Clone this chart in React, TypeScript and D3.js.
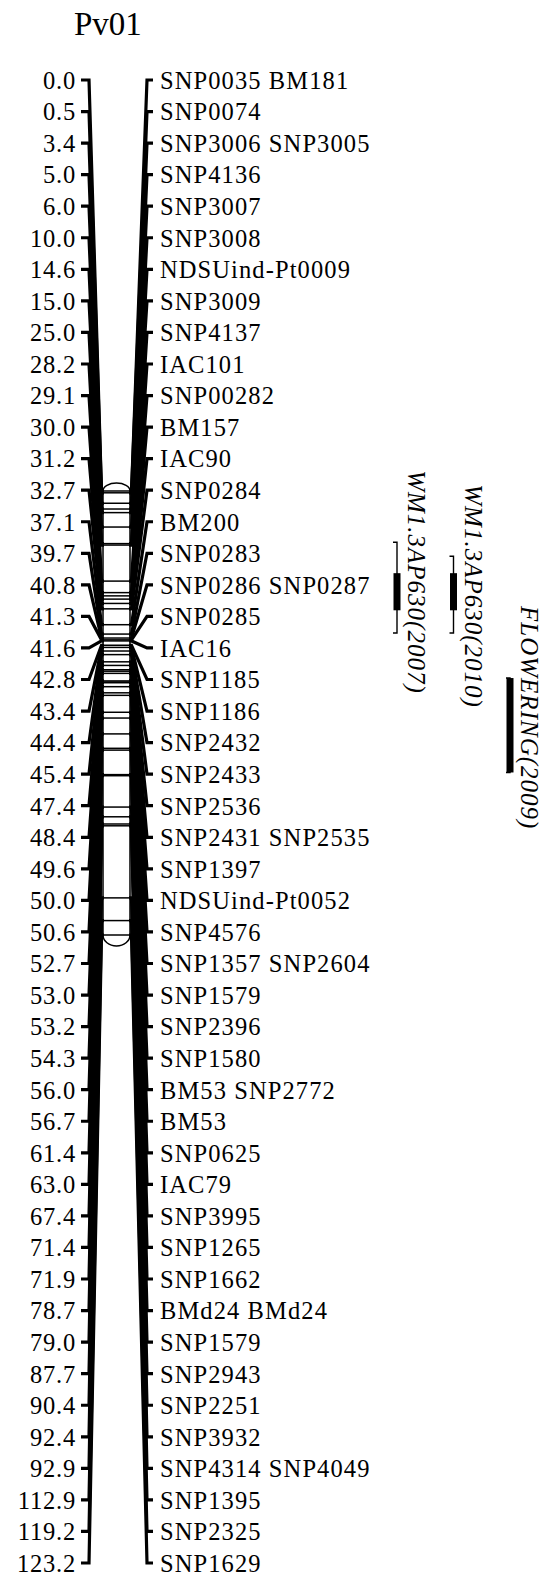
import React from "react";
import { scaleLinear, scalePoint, line } from "d3";

// linkage group Pv01, positions in cM, markers read top to bottom
const title = "Pv01";

const positions = [
  0.0, 0.5, 3.4, 5.0, 6.0, 10.0, 14.6, 15.0, 25.0, 28.2, 29.1, 30.0, 31.2,
  32.7, 37.1, 39.7, 40.8, 41.3, 41.6, 42.8, 43.4, 44.4, 45.4, 47.4, 48.4, 49.6,
  50.0, 50.6, 52.7, 53.0, 53.2, 54.3, 56.0, 56.7, 61.4, 63.0, 67.4, 71.4, 71.9,
  78.7, 79.0, 87.7, 90.4, 92.4, 92.9, 112.9, 119.2, 123.2
];

const markers = [
  "SNP0035 BM181", "SNP0074", "SNP3006 SNP3005", "SNP4136", "SNP3007",
  "SNP3008", "NDSUind-Pt0009", "SNP3009", "SNP4137", "IAC101", "SNP00282",
  "BM157", "IAC90", "SNP0284", "BM200", "SNP0283", "SNP0286 SNP0287",
  "SNP0285", "IAC16", "SNP1185", "SNP1186", "SNP2432", "SNP2433", "SNP2536",
  "SNP2431 SNP2535", "SNP1397", "NDSUind-Pt0052", "SNP4576",
  "SNP1357 SNP2604", "SNP1579", "SNP2396", "SNP1580", "BM53 SNP2772", "BM53",
  "SNP0625", "IAC79", "SNP3995", "SNP1265", "SNP1662", "BMd24 BMd24",
  "SNP1579", "SNP2943", "SNP2251", "SNP3932", "SNP4314 SNP4049", "SNP1395",
  "SNP2325", "SNP1629"
];

// QTL intervals (cM)
const qtlNames = ["WM1.3AP630(2007)", "WM1.3AP630(2010)", "FLOWERING(2009)"];
const qtlFrom = [14.2, 18.1, 51.9];
const qtlTo = [39.4, 39.4, 78.1];
const qtlPeakFrom = [22.8, 22.8, 51.9];
const qtlPeakTo = [33.1, 33.1, 78.1];

const font = "'Liberation Serif', 'Times New Roman', serif";

function LinkageGroup({ width, height }) {
  const chrLeft = 103,
    chrRight = 130,
    tickLeft = 81,
    bendLeft = 89,
    bendRight = 147,
    tickRight = 153;

  const idx = positions.map((_, i) => i);

  const yLabel = scalePoint()
    .domain(idx)
    .range([80, 1563]);

  const yCM = scaleLinear()
    .domain([0, positions[positions.length - 1]])
    .range([491, 935]);

  const xQtl = scalePoint()
    .domain(qtlNames)
    .range([397, 510]);

  const link = line();

  const top = yCM(0),
    bottom = yCM(positions[positions.length - 1]);
  const rx = (chrRight - chrLeft) / 2;

  const outline =
    `M${chrLeft},${top} L${chrLeft},${bottom} ` +
    `A${rx},11 0 0 0 ${chrRight},${bottom} L${chrRight},${top} ` +
    `A${rx},8 0 0 0 ${chrLeft},${top} Z`;

  return (
    <g>
      <text x={74} y={35} fontSize={33} fontFamily={font}>
        {title}
      </text>

      {/* chromosome body */}
      <path d={outline} fill="#fff" stroke="#000" strokeWidth={1.5} />
      {positions.map((p, i) => (
        <line
          key={"m" + i}
          x1={chrLeft}
          x2={chrRight}
          y1={yCM(p)}
          y2={yCM(p)}
          stroke="#000"
          strokeWidth={1.5}
        />
      ))}

      {/* connectors */}
      {positions.map((p, i) => (
        <g key={"c" + i} fill="none" stroke="#000" strokeWidth={3.2}>
          <path
            d={link([
              [tickLeft, yLabel(i)],
              [bendLeft, yLabel(i)],
              [chrLeft - 1.5, yCM(p)],
              [chrLeft + 1, yCM(p)]
            ])}
          />
          <path
            d={link([
              [chrRight - 1, yCM(p)],
              [chrRight + 1.5, yCM(p)],
              [bendRight, yLabel(i)],
              [tickRight, yLabel(i)]
            ])}
          />
        </g>
      ))}

      {/* labels */}
      {positions.map((p, i) => (
        <text
          key={"l" + i}
          x={76}
          y={yLabel(i)}
          dy="0.36em"
          textAnchor="end"
          fontSize={24.5}
          letterSpacing={0.8}
          fontFamily={font}
        >
          {p.toFixed(1)}
        </text>
      ))}
      {markers.map((m, i) => (
        <text
          key={"r" + i}
          x={160}
          y={yLabel(i)}
          dy="0.36em"
          fontSize={24.5}
          letterSpacing={1.1}
          fontFamily={font}
        >
          {m}
        </text>
      ))}

      {/* QTLs */}
      {qtlNames.map((q, i) => {
        const x = xQtl(q);
        const y0 = yCM(qtlFrom[i]),
          y1 = yCM(qtlTo[i]);
        return (
          <g key={q}>
            <path
              d={`M${x - 4},${y0} L${x},${y0} L${x},${y1} L${x - 4},${y1}`}
              fill="none"
              stroke="#000"
              strokeWidth={1.4}
            />
            <rect
              x={x - 3.5}
              y={yCM(qtlPeakFrom[i])}
              width={7}
              height={yCM(qtlPeakTo[i]) - yCM(qtlPeakFrom[i])}
              fill="#000"
            />
            <text
              transform={`translate(${x + 11},${y0 - 72}) rotate(90)`}
              fontSize={25}
              letterSpacing={1}
              fontStyle="italic"
              fontFamily={font}
            >
              {q}
            </text>
          </g>
        );
      })}
    </g>
  );
}

export default function App() {
  const width = 545,
    height = 1576;
  return (
    <svg
      width={width}
      height={height}
      style={{ position: "absolute", left: 0, top: 0, background: "#fff" }}
    >
      <LinkageGroup width={width} height={height} />
    </svg>
  );
}
